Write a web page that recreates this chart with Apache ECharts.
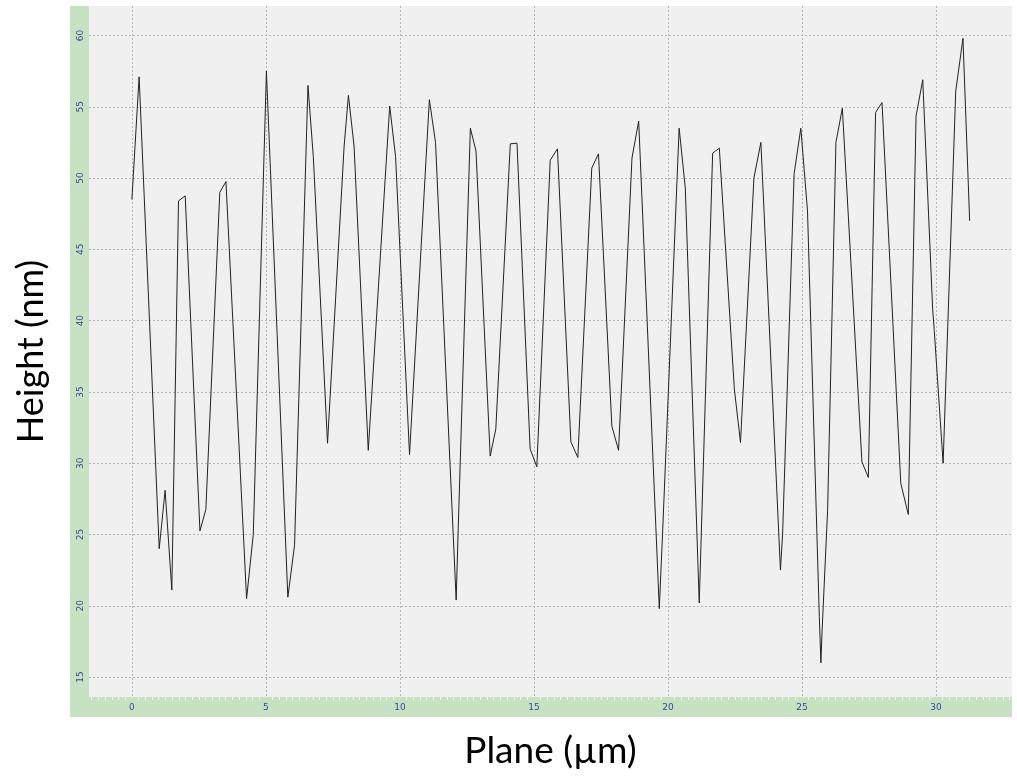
<!DOCTYPE html>
<html>
<head>
<meta charset="utf-8">
<script src="https://cdn.jsdelivr.net/npm/echarts@6/dist/echarts.min.js"></script>
<style>
  html, body { margin: 0; padding: 0; background: #fff; }
  #profile { width: 1017px; height: 776px; }
</style>
</head>
<body>
<div id="profile"></div>
<script>
// AFM line profile, vertices
const planeX = [
  0, 0.27, 1.02, 1.24, 1.49, 1.74, 1.99, 2.54, 2.76, 3.28,
  3.51, 4.28, 4.53, 5.02, 5.82, 6.07, 6.57, 6.77, 7.30, 7.92,
  8.08, 8.29, 8.82, 9.62, 9.84, 10.36, 11.10, 11.33, 12.10, 12.17,
  12.63, 12.84, 13.37, 13.58, 14.12, 14.37, 14.86, 15.11, 15.61, 15.88,
  16.38, 16.64, 17.16, 17.41, 17.91, 18.16, 18.66, 18.91, 19.68, 19.80,
  20.42, 20.65, 21.17, 21.67, 21.92, 22.48, 22.71, 23.21, 23.47, 24.20,
  24.28, 24.71, 24.96, 25.21, 25.65, 25.71, 25.75, 25.96, 26.27, 26.51,
  27.24, 27.48, 27.75, 27.99, 28.69, 28.97, 29.26, 29.51, 29.88, 29.94,
  30.27, 30.74, 31.01, 31.26
]
const heightNm = [
  48.5, 57.1, 24.0, 28.1, 21.1, 48.4, 48.75, 25.25, 26.75, 49.0,
  49.75, 20.5, 25.0, 57.5, 20.6, 24.25, 56.5, 51.5, 31.4, 52.25,
  55.8, 52.25, 30.9, 55.05, 51.5, 30.6, 55.5, 52.5, 20.4, 25.0,
  53.5, 51.9, 30.5, 32.4, 52.4, 52.45, 31.0, 29.75, 51.25, 52.05,
  31.5, 30.4, 50.7, 51.7, 32.6, 30.9, 51.4, 54.0, 19.8, 25.0,
  53.5, 49.3, 20.2, 51.75, 52.1, 35.2, 31.45, 50.0, 52.5, 22.5,
  25.0, 50.3, 53.5, 47.7, 19.25, 16.0, 18.1, 26.7, 52.5, 54.9,
  30.1, 29.0, 54.6, 55.3, 28.6, 26.4, 54.35, 56.9, 40.8, 39.3,
  30.0, 56.1, 59.8, 47.0
]
const xTickLabels = [0, 5, 10, 15, 20, 25, 30]
const yTickLabels = [15, 20, 25, 30, 35, 40, 45, 50, 55, 60]

let chart = echarts.init(document.getElementById('profile'))

let gridLine = {
  show: true,
  showMinLine: false,
  showMaxLine: false,
  lineStyle: { color: '#b7b7b7', width: 1, type: [2, 2] }
}
let tickLabel = {
  color: '#3347a8',
  fontSize: 9,
  fontFamily: 'DejaVu Sans',
  showMinLabel: false,
  showMaxLabel: false
}

let option = {
  backgroundColor: '#ffffff',
  animation: false,
  graphic: [
    {
      // green frame behind the plot area
      type: 'rect',
      z: -10,
      shape: { x: 70, y: 6, width: 942, height: 711 },
      style: { fill: '#c6e2c1' }
    }
  ],
  grid: {
    left: 89,
    right: 5,
    top: 6,
    bottom: 79,
    show: true,
    backgroundColor: '#f0f0f0',
    borderWidth: 0
  },
  xAxis: {
    type: 'value',
    min: -1.6,
    max: 32.84,
    splitNumber: 7,
    minInterval: 5,
    maxInterval: 5,
    name: 'Plane (µm)',
    nameLocation: 'middle',
    nameGap: 36,
    nameTextStyle: { color: '#000', fontSize: 37, fontFamily: 'Lato' },
    axisLine: { show: false },
    axisTick: { show: false },
    minorTick: { show: true, splitNumber: 20, length: 3, lineStyle: { color: '#f4f4f4' } },
    axisLabel: Object.assign({}, tickLabel, {
      margin: 6,
      formatter: v => (xTickLabels.indexOf(v) >= 0 ? String(v) : '')
    }),
    splitLine: gridLine
  },
  yAxis: {
    type: 'value',
    min: 13.6,
    max: 62.07,
    splitNumber: 10,
    minInterval: 5,
    maxInterval: 5,
    name: 'Height (nm)',
    nameLocation: 'middle',
    nameGap: 40,
    nameTextStyle: { color: '#000', fontSize: 36, fontFamily: 'Lato' },
    axisLine: { show: false },
    axisTick: { show: false },
    minorTick: { show: true, splitNumber: 10, length: 3, lineStyle: { color: '#f4f4f4' } },
    axisLabel: Object.assign({}, tickLabel, {
      rotate: 90,
      margin: 4,
      formatter: v => (yTickLabels.indexOf(v) >= 0 ? String(v) : '')
    }),
    splitLine: gridLine
  },
  series: [
    {
      name: 'Height',
      type: 'line',
      symbol: 'none',
      lineStyle: { color: '#222222', width: 1 },
      data: planeX.map((x, i) => [x, heightNm[i]])
    }
  ]
}
chart.setOption(option)
</script>
</body>
</html>
